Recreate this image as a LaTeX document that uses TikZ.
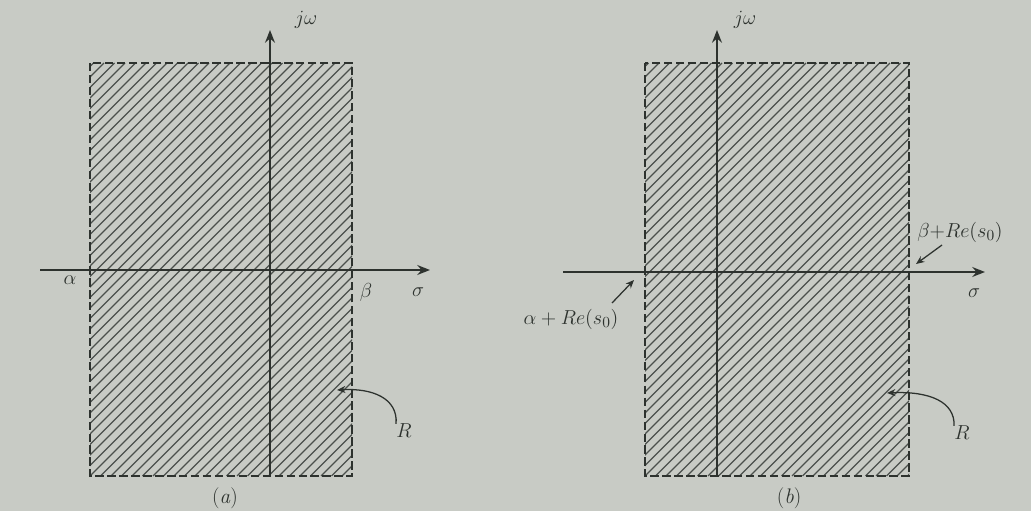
\documentclass[tikz,border=0pt]{standalone}
\usetikzlibrary{arrows.meta}
\definecolor{bg}{RGB}{200,203,197}
\definecolor{ink}{RGB}{45,50,46}
\definecolor{hatch}{RGB}{75,80,76}
\begin{document}
\begin{tikzpicture}[x=0.025cm,y=-0.025cm,
  axis/.style={ink,line width=1.3pt,-{Stealth[length=9pt,width=7pt]}},
  region/.style={ink,line width=1.1pt,dash pattern=on 6pt off 2.5pt},
  hatchline/.style={hatch,line width=0.9pt},
  pointer/.style={ink,line width=0.9pt,-{Stealth[length=6pt,width=5pt]}},
  lbl/.style={ink,inner sep=0pt,font=\fontsize{15}{17}\selectfont}]
\fill[bg] (0,0) rectangle (1031,511);
\useasboundingbox (0,0) rectangle (1031,511);

% ---------- panel (a) ----------
\begin{scope}
  \clip (90,63) rectangle (352,476);
  \foreach \k in {-40,...,70} {
    \draw[hatchline] ({90+10.5*\k},476) -- ({90+10.5*\k+413},63);
  }
\end{scope}
\draw[region] (90,63) rectangle (352,476);
\coordinate (ha1) at (40,270);
\coordinate (ha2) at (430,270);
\coordinate (va1) at (270,476);
\coordinate (va2) at (270,30);
\draw[axis] (ha1) -- (ha2);
\draw[axis] (va1) -- (va2);
\node[lbl] (jwa) at (306,20) {$j\omega$};
\node[lbl] (sga) at (418,292) {$\sigma$};
\node[lbl] (ala) at (70,280) {$\alpha$};
\node[lbl] (bta) at (366,292) {$\beta$};
\node[lbl] (Ra) at (404,431) {$R$};
\coordinate (ra) at (337,390);
\draw[pointer] (Ra.north west) .. controls (398,398) and (372,388) .. (ra);
\node[lbl] (capa) at (225,498) {(\textit{a})};

% ---------- panel (b) ----------
\begin{scope}
  \clip (645,63) rectangle (909,476);
  \foreach \k in {-40,...,70} {
    \draw[hatchline] ({645+10.5*\k},476) -- ({645+10.5*\k+413},63);
  }
\end{scope}
\draw[region] (645,63) rectangle (909,476);
\coordinate (hb1) at (563,272);
\coordinate (hb2) at (985,272);
\coordinate (vb1) at (717,476);
\coordinate (vb2) at (717,30);
\draw[axis] (hb1) -- (hb2);
\draw[axis] (vb1) -- (vb2);
\node[lbl] (jwb) at (745,20) {$j\omega$};
\node[lbl] (sgb) at (974,293) {$\sigma$};
\node[lbl] (alb) at (571,319) {$\alpha+Re(s_0)$};
\coordinate (alp) at (634,280);
\draw[pointer] (612,303) -- (alp);
\node[lbl,anchor=west] (btb) at (917,232) {$\beta{+}Re(s_0)$};
\coordinate (btp) at (916,264);
\draw[pointer] (942,245) -- (btp);
\node[lbl] (Rb) at (962,433) {$R$};
\coordinate (rb) at (887,393);
\draw[pointer] (Rb.north west) .. controls (955,402) and (930,391) .. (rb);
\node[lbl] (capb) at (789,498) {(\textit{b})};
\end{tikzpicture}
\end{document}
